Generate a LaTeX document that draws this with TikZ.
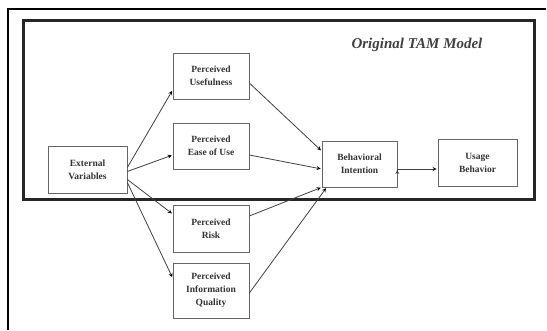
\documentclass[tikz,border=0pt]{standalone}
\usepackage{fontspec}
\setmainfont{Liberation Serif}
\usetikzlibrary{arrows}
\begin{document}
\begin{tikzpicture}[x=1pt,y=-1pt,->,>=stealth,shorten >=1pt,
    main node/.style={rectangle,draw=black!60,line width=0.7pt,inner sep=0pt,align=center,text=black!80,font=\bfseries\fontsize{9.5}{13}\selectfont}]
            \useasboundingbox (0,0) rectangle (547,330);
            % frames
            \draw[-,line width=1.2pt] (8,330) -- (8,9) -- (547,9);
            \draw[-,line width=3pt,black!85] (23,20) rectangle (534,199);

            \node [text=black!75,font=\bfseries\itshape\fontsize{15}{18}\selectfont](0) at (417,45){Original TAM Model};

            \node [main node, minimum width=79, minimum height=47](1) at (87.5,169.5){External\\Variables};
            \node [main node, minimum width=76, minimum height=46](2) at (211,76){Perceived\\Usefulness};
            \node [main node, minimum width=76, minimum height=46](3) at (211,146){Perceived\\Ease of Use};
            \node [main node, minimum width=76, minimum height=47](4) at (211,228.5){Perceived\\Risk};
            \node [main node, minimum width=76, minimum height=55](5) at (211,290.5){Perceived\\Information\\Quality};
            \node [main node, minimum width=75, minimum height=46](6) at (359.5,164){Behavioral\\Intention};
            \node [main node, minimum width=79, minimum height=47](7) at (477.5,162.5){Usage\\Behavior};

            \path[draw=black!75,line width=0.8pt]
                ([yshift=2pt]1.east) edge ([yshift=-14pt]2.west)
                ([yshift=-2pt]1.east) edge ([yshift=-9pt]3.west)
                ([yshift=-10pt]1.east) edge ([yshift=14.5pt]4.west)
                ([yshift=-13pt]1.east) edge ([yshift=12.5pt]5.west)

                ([yshift=-7pt]2.east) edge ([yshift=13pt]6.west)
                ([yshift=-9pt]3.east) edge ([yshift=-5pt]6.west)
                ([yshift=12.5pt]4.east) edge (6.south west)
                ([yshift=-2.5pt]5.east) edge ([xshift=5pt]6.south west)

                ([yshift=-5pt]6.east) edge ([yshift=-6.5pt]7.west)
                ;
\end{tikzpicture}
\end{document}
